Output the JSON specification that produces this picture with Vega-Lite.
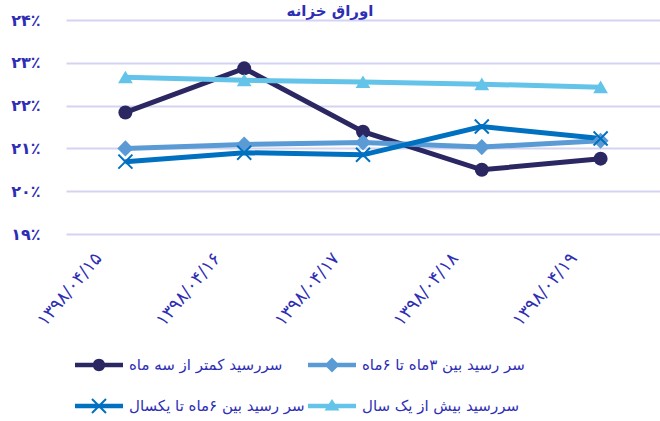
{
  "$schema": "https://vega.github.io/schema/vega-lite/v6.json",
  "width": 594,
  "height": 214,
  "autosize": "none",
  "padding": {"left": 66, "top": 20, "right": 0, "bottom": 187},
  "background": "white",
  "title": {
    "text": "اوراق خزانه",
    "font": "DejaVu Sans",
    "fontSize": 15,
    "fontWeight": "bold",
    "color": "#2E2EB5",
    "anchor": "middle",
    "offset": -7,
    "dx": -33
  },
  "config": {
    "view": {"stroke": null},
    "font": "DejaVu Sans"
  },
  "data": {
    "values": [
      {"date": "۱۳۹۸/۰۴/۱۵", "series": "سررسید کمتر از سه ماه", "value": 21.84},
      {"date": "۱۳۹۸/۰۴/۱۶", "series": "سررسید کمتر از سه ماه", "value": 22.87},
      {"date": "۱۳۹۸/۰۴/۱۷", "series": "سررسید کمتر از سه ماه", "value": 21.39},
      {"date": "۱۳۹۸/۰۴/۱۸", "series": "سررسید کمتر از سه ماه", "value": 20.5},
      {"date": "۱۳۹۸/۰۴/۱۹", "series": "سررسید کمتر از سه ماه", "value": 20.76},
      {"date": "۱۳۹۸/۰۴/۱۵", "series": "سر رسید بین ۳ماه تا ۶ماه", "value": 21.0},
      {"date": "۱۳۹۸/۰۴/۱۶", "series": "سر رسید بین ۳ماه تا ۶ماه", "value": 21.09},
      {"date": "۱۳۹۸/۰۴/۱۷", "series": "سر رسید بین ۳ماه تا ۶ماه", "value": 21.14},
      {"date": "۱۳۹۸/۰۴/۱۸", "series": "سر رسید بین ۳ماه تا ۶ماه", "value": 21.03},
      {"date": "۱۳۹۸/۰۴/۱۹", "series": "سر رسید بین ۳ماه تا ۶ماه", "value": 21.18},
      {"date": "۱۳۹۸/۰۴/۱۵", "series": "سر رسید بین ۶ماه تا یکسال", "value": 20.69},
      {"date": "۱۳۹۸/۰۴/۱۶", "series": "سر رسید بین ۶ماه تا یکسال", "value": 20.9},
      {"date": "۱۳۹۸/۰۴/۱۷", "series": "سر رسید بین ۶ماه تا یکسال", "value": 20.85},
      {"date": "۱۳۹۸/۰۴/۱۸", "series": "سر رسید بین ۶ماه تا یکسال", "value": 21.51},
      {"date": "۱۳۹۸/۰۴/۱۹", "series": "سر رسید بین ۶ماه تا یکسال", "value": 21.23},
      {"date": "۱۳۹۸/۰۴/۱۵", "series": "سررسید بیش از یک سال", "value": 22.66},
      {"date": "۱۳۹۸/۰۴/۱۶", "series": "سررسید بیش از یک سال", "value": 22.59},
      {"date": "۱۳۹۸/۰۴/۱۷", "series": "سررسید بیش از یک سال", "value": 22.55},
      {"date": "۱۳۹۸/۰۴/۱۸", "series": "سررسید بیش از یک سال", "value": 22.5},
      {"date": "۱۳۹۸/۰۴/۱۹", "series": "سررسید بیش از یک سال", "value": 22.43}
    ]
  },
  "encoding": {
    "x": {
      "field": "date",
      "type": "nominal",
      "sort": null,
      "axis": {
        "title": null,
        "domain": false,
        "ticks": false,
        "grid": false,
        "labelAngle": -50,
        "labelAlign": "right",
        "labelBaseline": "middle",
        "labelPadding": 21,
        "labelOffset": -27,
        "labelFont": "DejaVu Sans",
        "labelFontSize": 18,
        "labelColor": "#2E2EB5"
      }
    },
    "y": {
      "field": "value",
      "type": "quantitative",
      "scale": {"domain": [19, 24], "nice": false, "zero": false},
      "axis": {
        "title": null,
        "domain": false,
        "ticks": false,
        "values": [19, 20, 21, 22, 23, 24],
        "gridColor": "#D4D4F2",
        "gridWidth": 2,
        "labelPadding": 26,
        "labelFont": "DejaVu Sans",
        "labelFontSize": 16,
        "labelFontWeight": "bold",
        "labelColor": "#2E2EB5",
        "labelExpr": "substring('۰۱۲۳۴۵۶۷۸۹', floor(datum.value/10), floor(datum.value/10)+1) + substring('۰۱۲۳۴۵۶۷۸۹', datum.value%10, datum.value%10+1) + '٪'"
      }
    }
  },
  "layer": [
    {
      "mark": {"type": "line", "strokeWidth": 5},
      "encoding": {
        "color": {
          "field": "series",
          "type": "nominal",
          "scale": {
            "domain": ["سررسید کمتر از سه ماه", "سر رسید بین ۳ماه تا ۶ماه", "سر رسید بین ۶ماه تا یکسال", "سررسید بیش از یک سال"],
            "range": ["#2B2762", "#5B9BD5", "#0070C0", "#63C3E8"]
          },
          "legend": {
            "title": null,
            "orient": "none",
            "direction": "horizontal",
            "legendX": 23,
            "legendY": 335,
            "columns": 2,
            "padding": 0,
            "columnPadding": 3,
            "rowPadding": 23,
            "symbolSize": 400,
            "labelOffset": 20,
            "labelFont": "DejaVu Sans",
            "labelFontSize": 15,
            "labelColor": "#2E2EB5",
            "labelLimit": 400,
            "encode": {
              "symbols": {
                "update": {
                  "shape": {"signal": "datum.value === 'سررسید کمتر از سه ماه' ? 'M-2.4,-0.22H2.4V0.22H-2.4ZM0.62,0A0.62,0.62 0 1,1 -0.62,0A0.62,0.62 0 1,1 0.62,0Z' : datum.value === 'سر رسید بین ۳ماه تا ۶ماه' ? 'M-2.4,-0.22H2.4V0.22H-2.4ZM0,-0.75L0.75,0L0,0.75L-0.75,0Z' : datum.value === 'سر رسید بین ۶ماه تا یکسال' ? 'M-2.4,-0.22H2.4V0.22H-2.4ZM0.63,-0.77L0.77,-0.63L0.14,0L0.77,0.63L0.63,0.77L0,0.14L-0.63,0.77L-0.77,0.63L-0.14,0L-0.77,-0.63L-0.63,-0.77L0,-0.14Z' : 'M-2.4,-0.22H2.4V0.22H-2.4ZM0,-0.7L0.75,0.45L-0.75,0.45Z'"},
                  "fill": {"scale": "color", "field": "value"},
                  "stroke": {"value": "transparent"},
                  "strokeWidth": {"value": 0},
                  "opacity": {"value": 1}
                }
              }
            }
          }
        }
      }
    },
    {
      "transform": [{"filter": "datum.series === 'سررسید کمتر از سه ماه'"}],
      "mark": {"type": "point", "filled": true, "opacity": 1, "size": 196, "shape": "circle", "color": "#2B2762"}
    },
    {
      "transform": [{"filter": "datum.series === 'سر رسید بین ۳ماه تا ۶ماه'"}],
      "mark": {"type": "point", "filled": true, "opacity": 1, "size": 196, "shape": "M0,-1.15L1.15,0L0,1.15L-1.15,0Z", "color": "#5B9BD5"}
    },
    {
      "transform": [{"filter": "datum.series === 'سر رسید بین ۶ماه تا یکسال'"}],
      "mark": {"type": "point", "filled": true, "opacity": 1, "size": 196, "shape": "M0.9,-1.1L1.1,-0.9L0.2,0L1.1,0.9L0.9,1.1L0,0.2L-0.9,1.1L-1.1,0.9L-0.2,0L-1.1,-0.9L-0.9,-1.1L0,-0.2Z", "color": "#0070C0"}
    },
    {
      "transform": [{"filter": "datum.series === 'سررسید بیش از یک سال'"}],
      "mark": {"type": "point", "filled": true, "opacity": 1, "size": 196, "shape": "M0,-0.95L1.05,0.85L-1.05,0.85Z", "color": "#63C3E8"}
    }
  ]
}
